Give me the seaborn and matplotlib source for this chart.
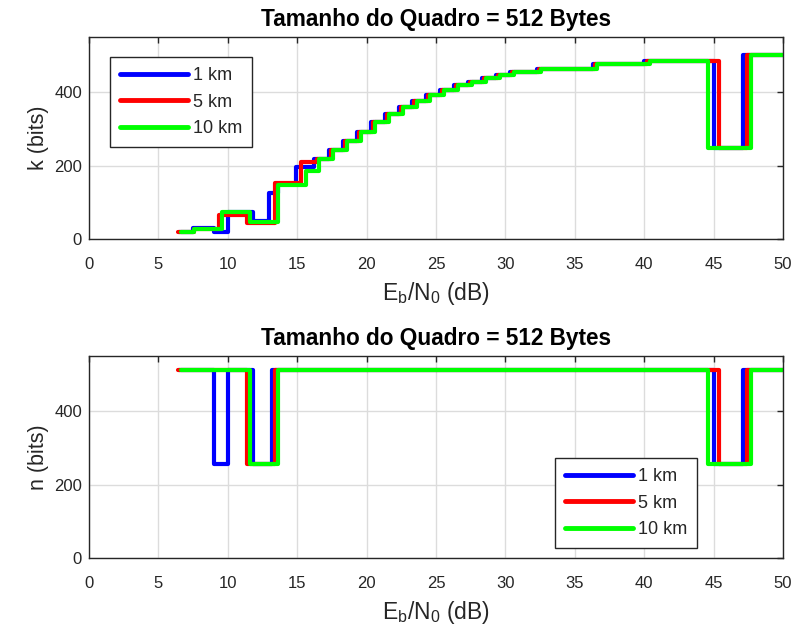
import matplotlib
matplotlib.use("Agg")
import matplotlib.pyplot as plt
import seaborn as sns
import pandas as pd

# ---------------- data ----------------
labels = ["1 km", "5 km", "10 km"]
colors = ["#0000ff", "#ff0000", "#00ff00"]
title = "Tamanho do Quadro = 512 Bytes"
xticks = [0, 5, 10, 15, 20, 25, 30, 35, 40, 45, 50]
yticks = [0, 200, 400]

# k (bits) step series: breakpoints in Eb/N0 (dB) and value held from that point
k_x_1km = [6.5, 7.5, 9.0, 10.0, 11.8, 13.0, 13.6, 14.9, 16.2, 17.3, 18.3, 19.3, 20.3,
           21.3, 22.3, 23.3, 24.3, 25.3, 26.3, 27.3, 28.3, 29.3, 30.3, 32.3, 36.3,
           40.0, 45.0, 47.1, 50.0]
k_1km = [20, 30, 20, 74, 50, 124, 150, 197, 218, 242, 268, 292, 318,
         340, 360, 376, 392, 406, 418, 428, 438, 446, 454, 464, 476,
         486, 248, 500, 500]

k_x_5km = [6.4, 7.6, 9.4, 11.4, 13.4, 15.3, 16.45, 17.45, 18.45, 19.45, 20.45, 21.45,
           22.45, 23.45, 24.45, 25.45, 26.45, 27.45, 28.45, 29.45, 30.45, 32.45, 36.45,
           40.2, 45.4, 47.4, 50.0]
k_5km = [20, 28, 66, 44, 152, 210, 218, 242, 268, 292, 318, 340,
         360, 376, 392, 406, 418, 428, 438, 446, 454, 464, 476,
         486, 248, 500, 500]

k_x_10km = [6.6, 7.6, 9.6, 11.6, 13.6, 15.6, 16.6, 17.6, 18.6, 19.6, 20.6, 21.6,
            22.6, 23.6, 24.6, 25.6, 26.6, 27.6, 28.6, 29.6, 30.6, 32.6, 36.6,
            40.4, 44.6, 47.7, 50.0]
k_10km = [20, 28, 74, 46, 148, 185, 218, 242, 268, 292, 318, 340,
          360, 376, 392, 406, 418, 428, 438, 446, 454, 464, 476,
          486, 248, 500, 500]

# n (bits) step series
n_x_1km = [6.5, 9.0, 10.0, 11.8, 13.2, 45.0, 47.1, 50.0]
n_1km = [512, 256, 512, 256, 512, 256, 512, 512]
n_x_5km = [6.4, 11.4, 13.4, 45.4, 47.4, 50.0]
n_5km = [512, 256, 512, 256, 512, 512]
n_x_10km = [6.6, 11.6, 13.6, 44.6, 47.7, 50.0]
n_10km = [512, 256, 512, 256, 512, 512]

# ---------------- build tables ----------------
def long_df(xs, ys, name):
    frames = []
    for lab, x, y in zip(labels, xs, ys):
        frames.append(pd.DataFrame({"Eb": x, name: y, "Dist": lab}))
    return pd.concat(frames, ignore_index=True)

df_k = long_df([k_x_1km, k_x_5km, k_x_10km], [k_1km, k_5km, k_10km], "k")
df_n = long_df([n_x_1km, n_x_5km, n_x_10km], [n_1km, n_5km, n_10km], "n")

# ---------------- style ----------------
sns.set_theme(style="white")
plt.rcParams["font.family"] = ["Liberation Sans", "DejaVu Sans"]
plt.rcParams["mathtext.fontset"] = "custom"
plt.rcParams["mathtext.rm"] = "Liberation Sans"

fig = plt.figure(figsize=(7.97, 6.37), dpi=100)
ax1 = fig.add_axes([89 / 797, 1 - 239 / 637, 694 / 797, 202 / 637])
ax2 = fig.add_axes([89 / 797, 1 - 558 / 637, 694 / 797, 202 / 637])

palette = dict(zip(labels, colors))

for ax, df, col, ylab in [(ax1, df_k, "k", "k (bits)"), (ax2, df_n, "n", "n (bits)")]:
    sns.lineplot(data=df, x="Eb", y=col, hue="Dist", hue_order=labels, palette=palette,
                 drawstyle="steps-post", estimator=None, sort=False, linewidth=3,
                 solid_joinstyle="round", solid_capstyle="round", ax=ax, legend=True)
    ax.set_xlim(0, 50)
    ax.set_ylim(0, 550)
    ax.set_xticks(xticks)
    ax.set_yticks(yticks)
    ax.grid(True, color="#dcdcdc", linewidth=1)
    ax.set_axisbelow(True)
    ax.tick_params(direction="in", top=True, right=True, length=4, width=1,
                   colors="#262626", labelsize=12, pad=5)
    ax.tick_params(axis="x", pad=13)
    for s in ax.spines.values():
        s.set_visible(True)
        s.set_color("#262626")
        s.set_linewidth(1)
    ax.set_title(title, fontsize=16.3, fontweight="bold", color="black", pad=8)
    ax.set_ylabel(ylab, fontsize=15.5, color="#262626", labelpad=4)
    ax.set_xlabel(r"E$_{\mathregular{b}}$/N$_{\mathregular{0}}$ (dB)", fontsize=16.5,
                  color="#262626", labelpad=6)

h1, l1 = ax1.get_legend_handles_labels()
ax1.legend(h1, l1, loc="upper left", bbox_to_anchor=(0.03, 0.9), fontsize=13,
           handlelength=3.8, frameon=True, fancybox=False, edgecolor="#262626",
           framealpha=1, borderpad=0.55, labelspacing=0.52, handletextpad=0.25,
           borderaxespad=0)
h2, l2 = ax2.get_legend_handles_labels()
ax2.legend(h2, l2, loc="lower right", bbox_to_anchor=(0.876, 0.05), fontsize=13,
           handlelength=3.8, frameon=True, fancybox=False, edgecolor="#262626",
           framealpha=1, borderpad=0.55, labelspacing=0.52, handletextpad=0.25,
           borderaxespad=0)
for leg in (ax1.get_legend(), ax2.get_legend()):
    leg.get_frame().set_linewidth(1)
    for line in leg.get_lines():
        line.set_linewidth(3.5)

fig.savefig("out.png", dpi=100, facecolor="white")
